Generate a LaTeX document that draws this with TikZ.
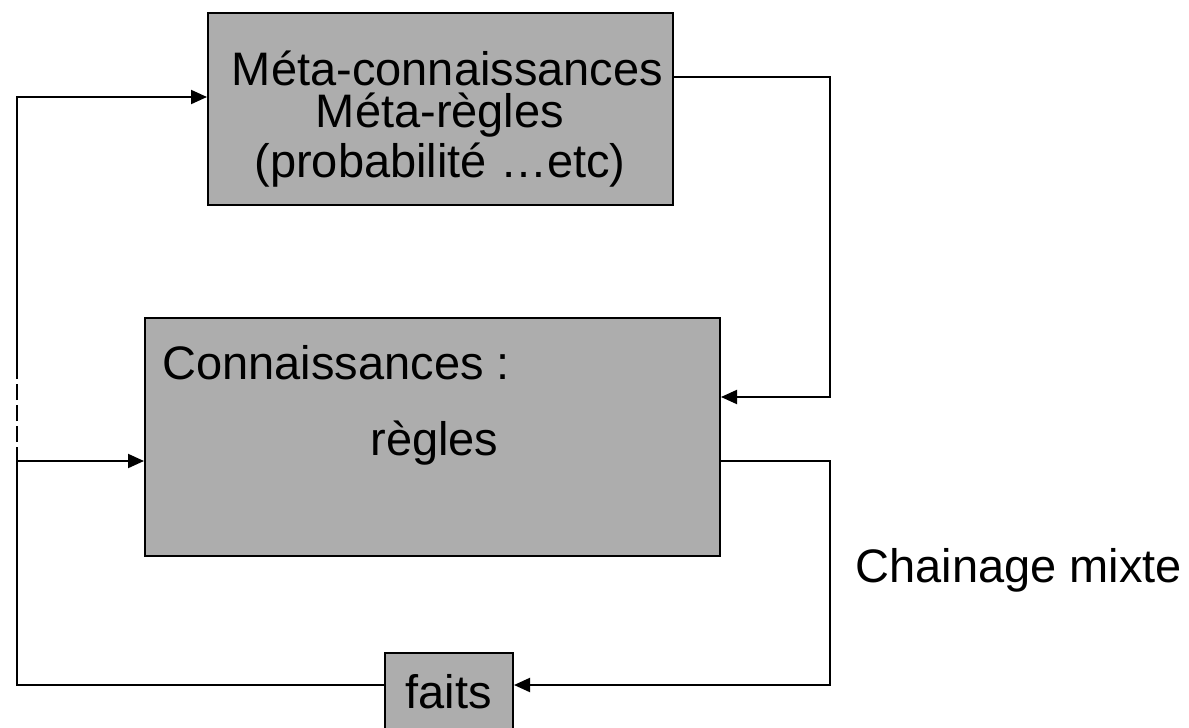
\documentclass[tikz,border=0pt]{standalone}
\usepackage{fontspec}
\setmainfont{Liberation Sans}
\usetikzlibrary{arrows.meta}
\definecolor{boxgray}{RGB}{173,173,173}
\begin{document}
\begin{tikzpicture}[x=0.5pt,y=-0.5pt,
box/.style={draw,fill=boxgray,line width=1pt,inner sep=0pt},
txt/.style={inner sep=0pt,font=\fontsize{23.5}{28}\selectfont},
link/.style={line width=1pt},
>={Triangle[length=8pt,width=7pt]}]
\useasboundingbox (0,0) rectangle (1189,728);
\clip (0,0) rectangle (1189,728);
% boxes
\node[box,minimum width=232.5pt,minimum height=96pt] (meta) at (440.5,109) {};
\node[box,minimum width=287.5pt,minimum height=119pt] (rules) at (432.5,437) {};
\node[box,minimum width=64pt,minimum height=50pt] (faits) at (449,703) {};
% texts
\node[txt,anchor=base] (metaA) at (447.5,85) {Méta-connaissances};
\node[txt,anchor=base] (metaB) at (440,127) {Méta-règles};
\node[txt,anchor=base] (metaC) at (440,177) {(probabilité …etc)};
\node[txt,anchor=base west] (rulesA) at (162,379) {Connaissances :};
\node[txt,anchor=base west] (rulesB) at (370,455) {règles};
\node[txt,anchor=base] (faitsA) at (448.5,708) {faits};
\node[txt,anchor=base west] (mixte) at (855,582) {Chainage mixte};
% corner points
\coordinate (lefttop) at (17,97);
\coordinate (dashA) at (17,373);
\coordinate (dashB) at (17,447);
\coordinate (leftmid) at (17,461);
\coordinate (leftlow) at (17,685);
\coordinate (righttop) at (830,77);
\coordinate (rightin) at (830,397);
\coordinate (rightout) at (830,461);
\coordinate (rightlow) at (830,685);
% connectors
\draw[link] (faits.west |- leftlow) -- (leftlow) -- (dashB);
\draw[link,dash pattern=on 8pt off 2.5pt,dash phase=8pt] (dashB) -- (dashA);
\draw[link,->] (dashA) -- (lefttop) -- (meta.west |- lefttop);
\draw[link,->] (leftmid) -- (rules.west |- leftmid);
\draw[link,->] (meta.east |- righttop) -- (righttop) -- (rightin) -- (rules.east |- rightin);
\draw[link,->] (rules.east |- rightout) -- (rightout) -- (rightlow) -- (faits.east |- rightlow);
\end{tikzpicture}
\end{document}
